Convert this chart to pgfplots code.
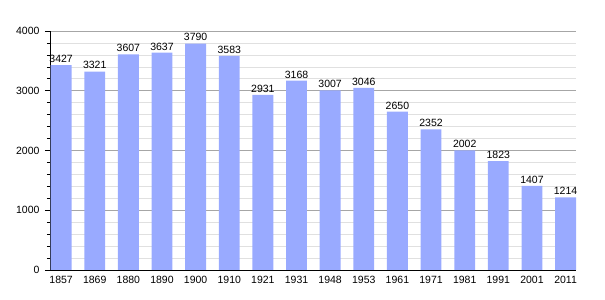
\documentclass[border=0pt]{standalone}
\usepackage{pgfplots}
\pgfplotsset{compat=1.18}
\usepackage{fontspec}
\setmainfont{Liberation Sans}
\definecolor{barc}{RGB}{153,170,255}
\begin{document}
\begin{tikzpicture}
\begin{axis}[
  scale only axis, width=526pt, height=239pt,
  xmin=-0.33, xmax=15.31, ymin=0, ymax=4000,
  axis x line=bottom, axis y line=left,
  axis line style={-, black, line width=0.8pt},
  xtick={0,...,15},
  xticklabels={1857,1869,1880,1890,1900,1910,1921,1931,1948,1953,1961,1971,1981,1991,2001,2011},
  x tick style={draw=none},
  ytick={0,1000,2000,3000,4000},
  minor y tick num=4,
  y tick style={black, line width=0.6pt},
  major tick length=5pt, minor tick length=3pt,
  tick align=outside,
  ymajorgrids, yminorgrids,
  major grid style={color=black!35, line width=0.6pt},
  minor grid style={color=black!12, line width=0.6pt},
  tick label style={font=\fontsize{10.5}{12}\selectfont},
  /pgf/number format/assume math mode=true,
  /pgf/number format/1000 sep={},
  yticklabel style={xshift=-2pt},
  xticklabel style={yshift=2pt},
  ybar, bar width=0.62, bar shift=0pt,
  nodes near coords,
  every node near coord/.append style={font=\fontsize{10.5}{12}\selectfont, black, yshift=-1pt},
  clip=false,
]
\addplot[fill=barc, draw=none] coordinates {
(0,3427) (1,3321) (2,3607) (3,3637) (4,3790) (5,3583) (6,2931) (7,3168)
(8,3007) (9,3046) (10,2650) (11,2352) (12,2002) (13,1823) (14,1407) (15,1214)};
\coordinate (bl) at (rel axis cs:0,0);
\coordinate (tr) at (rel axis cs:1,1);
\end{axis}
\path ([shift={(-50pt,-30pt)}]bl) rectangle ([shift={(29pt,31pt)}]tr);
\end{tikzpicture}
\end{document}
